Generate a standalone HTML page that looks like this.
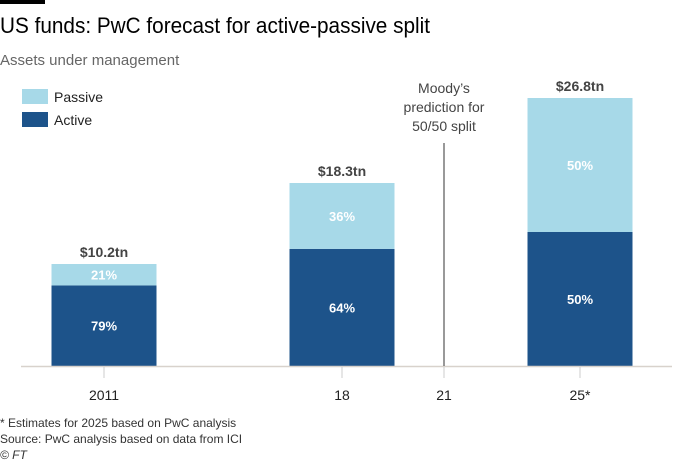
<!DOCTYPE html>
<html><head><meta charset="utf-8"><style>
body{margin:0;background:#fff;font-family:"Liberation Sans",sans-serif}
svg text{font-family:"Liberation Sans",sans-serif}
</style></head><body>
<svg width="700" height="466" viewBox="0 0 700 466">
<rect x="0" y="0" width="45" height="4" fill="#000"/>
<text x="0" y="33" font-size="22" fill="#000" textLength="430" lengthAdjust="spacingAndGlyphs">US funds: PwC forecast for active-passive split</text>
<text x="0" y="65" font-size="15" fill="#666">Assets under management</text>
<rect x="22" y="89" width="26" height="15" fill="#a7d9e8"/>
<text x="54" y="102" font-size="14" fill="#222">Passive</text>
<rect x="22" y="112" width="26" height="15" fill="#1d538a"/>
<text x="54" y="125" font-size="14" fill="#222">Active</text>
<g id="plot"></g>
<text x="0" y="427" font-size="12" fill="#333">* Estimates for 2025 based on PwC analysis</text>
<text x="0" y="443" font-size="12" fill="#333">Source: PwC analysis based on data from ICI</text>
<text x="0" y="459" font-size="12" font-style="italic" fill="#333">© FT</text>
</svg>
<script>
const categories=["2011","18","25*"];
const catYears=[2011,2018,2025];
const totals=[10.2,18.3,26.8];
const activeShare=[79,64,50];
const passiveShare=[21,36,50];
const totalLabels=["$10.2tn","$18.3tn","$26.8tn"];
const tickYears=[2011,2018,2021,2025];
const tickLabels=["2011","18","21","25*"];
const markerYear=2021;

const NS="http://www.w3.org/2000/svg";
const g=document.getElementById("plot");
const base=366, pxPerTn=10.0;
function xScale(yr){return 104+(yr-2011)*(580-104)/14;}
function yScale(v){return base-v*pxPerTn;}
const bw=105;
function mk(tag,attrs,txt){const e=document.createElementNS(NS,tag);for(const k in attrs)e.setAttribute(k,attrs[k]);if(txt!==undefined)e.textContent=txt;g.appendChild(e);return e;}

for(let i=0;i<categories.length;i++){
  const cx=xScale(catYears[i]);
  const act=totals[i]*activeShare[i]/100;
  const yA=yScale(act), yT=yScale(totals[i]);
  const r1=mk("rect",{x:cx-bw/2,y:yA,width:bw,height:base-yA,fill:"#1d538a"});
  
  
  const r2=mk("rect",{x:cx-bw/2,y:yT,width:bw,height:yA-yT,fill:"#a7d9e8"});
  
  
  const t1=mk("text",{x:cx,y:(yA+base)/2+5,"font-size":13,"font-weight":"bold",fill:"#fff","text-anchor":"middle"},activeShare[i]+"%");
  
  
  const t2=mk("text",{x:cx,y:(yA+yT)/2+5,"font-size":13,"font-weight":"bold",fill:"#fff","text-anchor":"middle"},passiveShare[i]+"%");
  
  
  const t3=mk("text",{x:cx,y:yT-7,"font-size":14,"font-weight":"bold",fill:"#444","text-anchor":"middle"},totalLabels[i]);
  
  
}
const ax=mk("line",{x1:21,x2:672,y1:base+0.5,y2:base+0.5,stroke:"#d8d2cc","stroke-width":1.5});


for(let i=0;i<tickYears.length;i++){
  const x=xScale(tickYears[i]);
  const tk=mk("line",{x1:x,x2:x,y1:base+1,y2:base+12,stroke:"#ccc","stroke-width":1});
  
  
  const tl=mk("text",{x:x,y:400,"font-size":14,fill:"#222","text-anchor":"middle"},tickLabels[i]);
  
  
}
const mx=xScale(markerYear);
const ml=mk("line",{x1:mx,x2:mx,y1:143,y2:base,stroke:"#333","stroke-width":1});


const ann=["Moody’s","prediction for","50/50 split"];
for(let i=0;i<ann.length;i++){
  const a=mk("text",{x:mx,y:93+i*19,"font-size":14,fill:"#444","text-anchor":"middle"},ann[i]);
  
  
}
</script>
</body></html>
